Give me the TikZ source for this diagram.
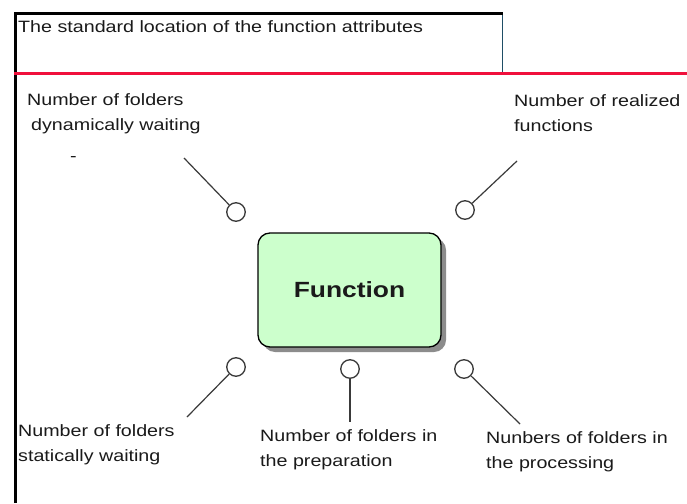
\documentclass[tikz,border=0pt]{standalone}
\usepackage{fontspec}
\setmainfont{Liberation Sans}
\newfontfamily\attrfont{Liberation Sans}[FakeStretch=1.2]
\usepackage{tikz}
\usetikzlibrary{shapes,arrows,shadows}

\definecolor{funcgreen}{HTML}{CCFFCC}
\definecolor{attrred}{HTML}{F0103C}
\definecolor{boxteal}{HTML}{1F4E66}
\definecolor{stemgray}{HTML}{3A3A3A}
\definecolor{textgray}{HTML}{1A1A1A}

\tikzset{
    attr/.style = {circle, draw = stemgray, line width = 1.3pt,
                   fill = white, inner sep = 0pt, minimum size = 18.5pt},
    stem/.style = {draw = stemgray, line width = 1.2pt},
    attrlabel/.style = {anchor = north west, inner sep = 0pt, align = left,
                        text = textgray,
                        font = \attrfont\fontsize{16.4}{25.5}\selectfont}
}

\begin{document}
\begin{tikzpicture}[x=1pt,y=-1pt]

    \useasboundingbox[fill=white] (0,0) rectangle (687,503);

    % frame of the attribute area
    \node[rectangle,
          draw = boxteal,
          line width = 1pt,
          minimum width = 486pt,
          minimum height = 58pt] (attrbox) at (259,43) {};
    \node[attrlabel] at (18,20) {The standard location of the function attributes};

    \draw[line width = 3pt] (15.5,503) -- (15.5,13.5) -- (503,13.5);
    \draw[attrred, line width = 3pt] (14,73) -- (687,73);

    % the function
    \node[rectangle,
          draw,
          line width = 1.3pt,
          rounded corners = 12pt,
          fill = funcgreen,
          drop shadow = {shadow xshift = 5pt, shadow yshift = -5pt,
                         fill = black!45, opacity = 1},
          minimum width = 183pt,
          minimum height = 114pt] (Function) at (349.5,290) {};
    \node[font = \attrfont\fontsize{22}{26}\selectfont\bfseries,
          text = textgray] at (Function.center) {Function};

    % attributes
    \node[attr] (dynwait)  at (236,212) {};
    \node[attr] (realized) at (465,210) {};
    \node[attr] (statwait) at (236,367) {};
    \node[attr] (prep)     at (350,369) {};
    \node[attr] (proc)     at (464,369) {};

    \coordinate (dynwaitEnd)  at (184,158);
    \coordinate (realizedEnd) at (517,161);
    \coordinate (statwaitEnd) at (187,417);
    \coordinate (prepEnd)     at (350,422);
    \coordinate (procEnd)     at (520,424);

    \draw[stem] (dynwait)  -- (dynwaitEnd);
    \draw[stem] (realized) -- (realizedEnd);
    \draw[stem] (statwait) -- (statwaitEnd);
    \draw[stem] (prep)     -- (prepEnd);
    \draw[stem] (proc)     -- (procEnd);

    % attribute names
    \node[attrlabel] (dynwaitText)  at (27,93)  {Number of folders\\\hspace{4pt}dynamically waiting};
    \node[attrlabel] at (70,156) {-};
    \node[attrlabel] (realizedText) at (514,94) {Number of realized\\functions};
    \node[attrlabel] (statwaitText) at (18,424) {Number of folders\\statically waiting};
    \node[attrlabel] (prepText)     at (260,429) {Number of folders in\\the preparation};
    \node[attrlabel] (procText)     at (486,431) {Nunbers of folders in\\the processing};

\end{tikzpicture}
\end{document}
